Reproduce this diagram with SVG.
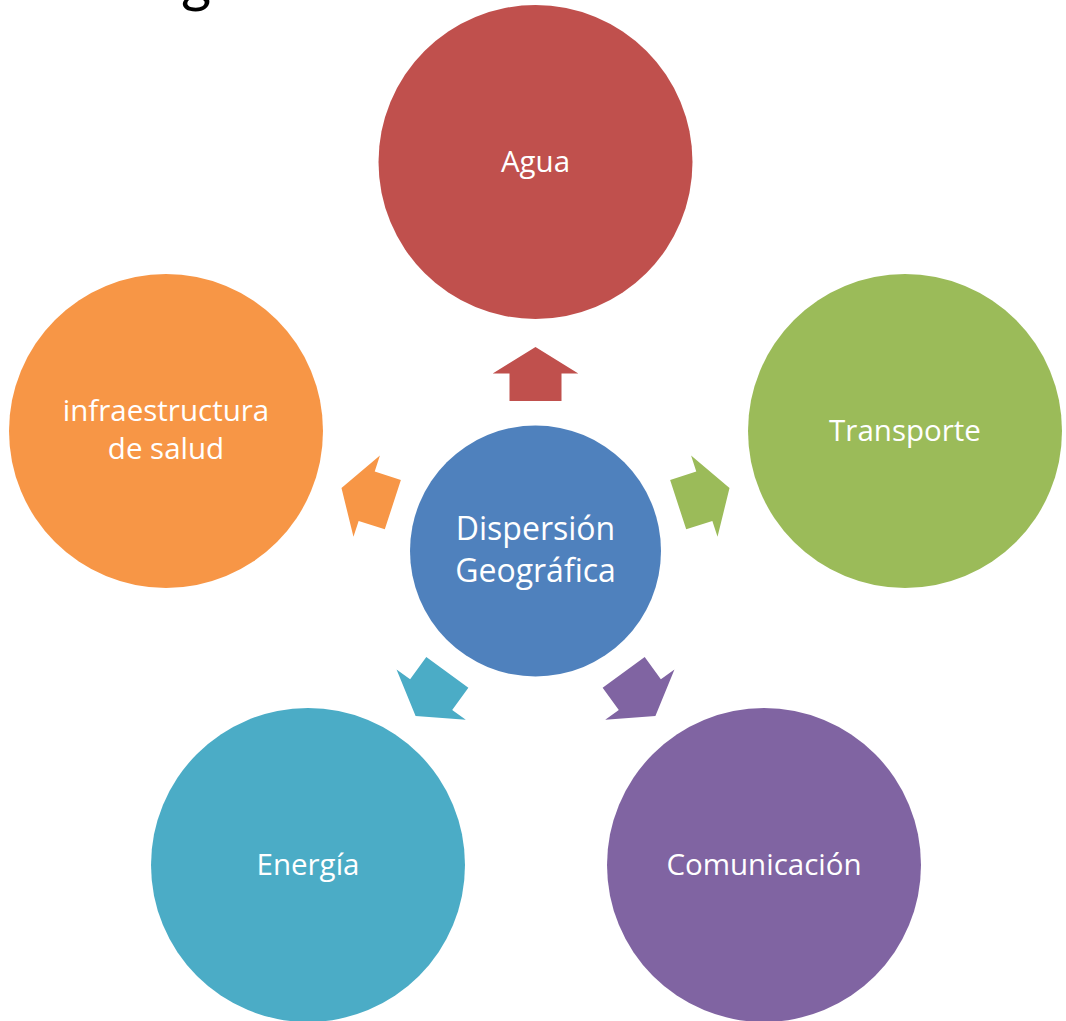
<svg xmlns="http://www.w3.org/2000/svg" width="1066" height="1021" viewBox="0 0 1066 1021">
<style>
.lbl{font-family:"Open Sans","Noto Sans","Liberation Sans",sans-serif;fill:#fff;text-anchor:middle;font-size:29.5px}
.ctr{font-size:32px}
.title{font-family:Lato,"Liberation Sans",sans-serif;fill:#000;font-size:58px}
</style>
<defs>
<path id="arr" d="M535.5,347 L578.3,373.5 L561.5,373.5 L561.5,401 L509.5,401 L509.5,373.5 L492.7,373.5 Z"/>
</defs>
<rect width="1066" height="1021" fill="#fff"/>
<text class="title" x="181" y="1">g</text>
<g id="connectors">
<use href="#arr" fill="#C0504D"/>
<use href="#arr" fill="#9BBB59" transform="rotate(72 535.5 551)"/>
<use href="#arr" fill="#8064A2" transform="rotate(144 535.5 551)"/>
<use href="#arr" fill="#4BACC6" transform="rotate(216 535.5 551)"/>
<use href="#arr" fill="#F79646" transform="rotate(288 535.5 551)"/>
</g>
<g id="agua"><circle cx="535.5" cy="162" r="157" fill="#C0504D"/><text class="lbl" x="535.5" y="172">Agua</text></g>
<g id="transporte"><circle cx="905" cy="431" r="157" fill="#9BBB59"/><text class="lbl" x="905" y="441">Transporte</text></g>
<g id="salud"><circle cx="166" cy="431" r="157" fill="#F79646"/><text class="lbl" x="166" y="421">infraestructura</text><text class="lbl" x="166" y="459">de salud</text></g>
<g id="energia"><circle cx="308" cy="865" r="157" fill="#4BACC6"/><text class="lbl" x="308" y="875">Energía</text></g>
<g id="comunicacion"><circle cx="764" cy="865" r="157" fill="#8064A2"/><text class="lbl" x="764" y="875">Comunicación</text></g>
<g id="centro"><circle cx="535.5" cy="551" r="125.5" fill="#4F81BD"/><text class="lbl ctr" x="535.5" y="540">Dispersión</text><text class="lbl ctr" x="535.5" y="582">Geográfica</text></g>
</svg>
